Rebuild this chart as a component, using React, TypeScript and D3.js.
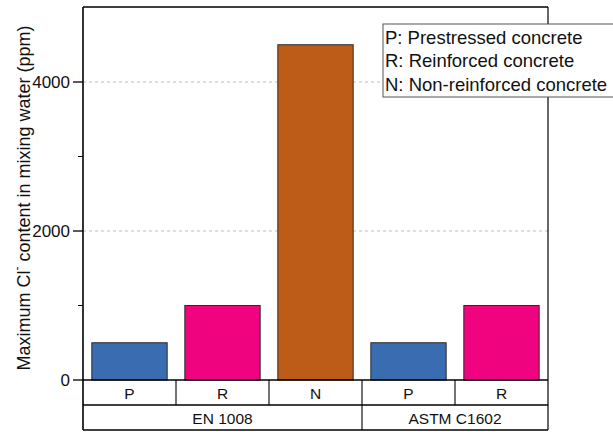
import React from "react";
import * as d3 from "d3";

// Chloride limits in mixing water by standard and concrete type
const standards = ["EN 1008", "ASTM C1602"];
const categories = ["P", "R", "N", "P", "R"];
const categoryStandard = ["EN 1008", "EN 1008", "EN 1008", "ASTM C1602", "ASTM C1602"];
const values = [500, 1000, 4500, 500, 1000];
const majorTicks = [0, 2000, 4000];
const minorTicks = [1000, 3000];
const legendLines = ["P: Prestressed concrete", "R: Reinforced concrete", "N: Non-reinforced concrete"];

const colorOf: Record<string, string> = {
  P: "#3a6cb2",
  R: "#f0037f",
  N: "#bd5b18",
};

const W = 613;
const H = 432;
const left = 83;
const right = 548;
const top = 7;
const zeroY = 380;
const rowH = 25;
const font = "'Liberation Sans', Arial, sans-serif";

export default function App() {
  const y = d3.scaleLinear().domain([0, 5000]).range([zeroY, top + 0.5]);
  const x = d3
    .scaleBand<number>()
    .domain(d3.range(categories.length))
    .range([left, right])
    .paddingInner(0)
    .paddingOuter(0);
  const bw = x.bandwidth();
  const barW = bw * 0.81;

  // group spans for the second table row
  const groups = standards.map((s) => {
    const idx = categoryStandard.map((c, i) => (c === s ? i : -1)).filter((i) => i >= 0);
    const x0 = x(idx[0])!;
    const x1 = x(idx[idx.length - 1])! + bw;
    return { name: s, x0, x1 };
  });

  const row1Y = zeroY;
  const row2Y = zeroY + rowH;
  const tableBottom = zeroY + rowH * 2;

  return (
    <svg
      width={W}
      height={H}
      style={{ position: "absolute", left: 0, top: 0, background: "#fff" }}
      fontFamily={font}
    >
      {/* gridlines */}
      {majorTicks
        .filter((t) => t > 0)
        .map((t) => (
          <line
            key={"g" + t}
            x1={left}
            x2={right}
            y1={y(t)}
            y2={y(t)}
            stroke="#bdbdbd"
            strokeWidth={1}
            strokeDasharray="3,3"
          />
        ))}

      {/* bars */}
      {values.map((v, i) => (
        <rect
          key={"b" + i}
          x={x(i)! + (bw - barW) / 2}
          y={y(v)}
          width={barW}
          height={zeroY - y(v)}
          fill={colorOf[categories[i]]}
          stroke="#2a2a2a"
          strokeWidth={1}
        />
      ))}

      {/* plot frame */}
      <line x1={left} x2={right} y1={top} y2={top} stroke="#000" strokeWidth={1.6} />
      <line x1={right} x2={right} y1={top} y2={tableBottom} stroke="#000" strokeWidth={1.2} />
      <line x1={left} x2={left} y1={top} y2={tableBottom} stroke="#000" strokeWidth={1.6} />

      {/* y ticks */}
      {majorTicks.map((t) => (
        <g key={"t" + t}>
          <line x1={left - 10} x2={left} y1={y(t)} y2={y(t)} stroke="#000" strokeWidth={1.3} />
          <text
            x={left - 13}
            y={y(t)}
            textAnchor="end"
            dominantBaseline="central"
            fontSize={17}
            fill="#111"
          >
            {t}
          </text>
        </g>
      ))}
      {minorTicks.map((t) => (
        <line key={"m" + t} x1={left - 5} x2={left} y1={y(t)} y2={y(t)} stroke="#000" strokeWidth={1} />
      ))}

      {/* category table */}
      <line x1={left} x2={right} y1={row1Y} y2={row1Y} stroke="#000" strokeWidth={1.3} />
      <line x1={left} x2={right} y1={row2Y} y2={row2Y} stroke="#000" strokeWidth={1.3} />
      <line x1={left} x2={right} y1={tableBottom} y2={tableBottom} stroke="#000" strokeWidth={1.3} />
      {categories.map((c, i) => (
        <g key={"c" + i}>
          {i > 0 && (
            <line x1={x(i)} x2={x(i)} y1={row1Y} y2={row2Y} stroke="#000" strokeWidth={1.1} />
          )}
          <text
            x={x(i)! + bw / 2}
            y={row1Y + rowH / 2 + 1}
            textAnchor="middle"
            dominantBaseline="central"
            fontSize={15.5}
            fill="#111"
          >
            {c}
          </text>
        </g>
      ))}
      {groups.map((g, i) => (
        <g key={"s" + g.name}>
          {i > 0 && <line x1={g.x0} x2={g.x0} y1={row2Y} y2={tableBottom} stroke="#000" strokeWidth={1.1} />}
          <text
            x={(g.x0 + g.x1) / 2}
            y={row2Y + rowH / 2 + 1}
            textAnchor="middle"
            dominantBaseline="central"
            fontSize={15.5}
            fill="#111"
          >
            {g.name}
          </text>
        </g>
      ))}

      {/* legend */}
      <rect x={383} y={24} width={240} height={73} fill="#fff" stroke="#555" strokeWidth={1} />
      {legendLines.map((l, i) => (
        <text key={"l" + i} x={385} y={37 + i * 23.5} dominantBaseline="central" fontSize={18.5} fill="#111">
          {l}
        </text>
      ))}

      {/* y axis title */}
      <text
        transform={`translate(24, 198) rotate(-90)`}
        textAnchor="middle"
        dominantBaseline="central"
        fontSize={18}
        fill="#111"
      >
        Maximum Cl
        <tspan fontSize={12} dy={-7}>
          -
        </tspan>
        <tspan dy={7}> content in mixing water (ppm)</tspan>
      </text>
    </svg>
  );
}
